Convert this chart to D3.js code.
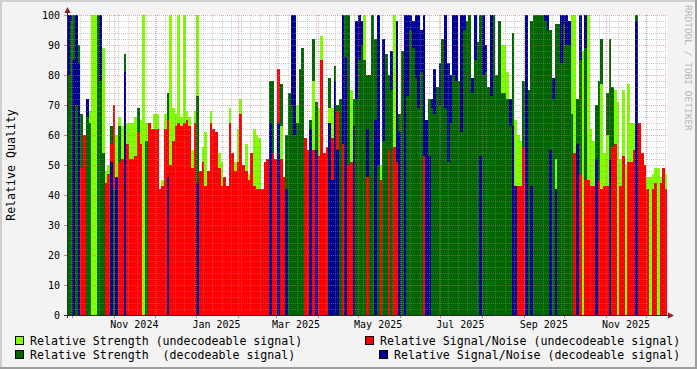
<!DOCTYPE html>
<html><head><meta charset="utf-8">
<script src="https://cdn.jsdelivr.net/npm/d3@7"></script>
<style>html,body{margin:0;padding:0;background:#f3f3f3;}svg{display:block;}</style>
</head><body><svg id="c" width="697" height="369"></svg>
<script>
// ---- data (2-day buckets starting at startDate) ----
const startDate = Date.UTC(2024, 8, 27);
const endDate = Date.UTC(2025, 11, 16, 10);
const bucketDays = 2;
const strengthUndecodeable = [
0,0,0,0,0,0,0,0,68,100, 100,0,0,89,48,50,0,0,60,66, 63,0,64,64,64,66,0,65,100,64,
0,0,67,67,0,45,67,0,100,69, 67,100,66,100,68,66,55,68,100,0, 56,61,0,68,0,0,54,51,0,0,
69,0,51,62,72,0,57,47,0,62, 60,59,0,0,0,0,0,0,0,63, 0,0,0,0,0,70,0,0,0,0,
0,78,0,69,93,0,0,69,69,0, 0,0,0,0,0,75,0,0,0,0, 100,0,0,0,0,0,50,0,0,0,
0,100,0,0,0,0,0,0,0,0, 0,0,0,0,0,0,0,0,0,0, 0,0,0,0,0,0,0,0,0,0,
0,0,0,0,0,0,0,0,0,0, 0,90,90,81,0,0,65,60,58,0, 0,0,0,0,0,0,0,0,0,0,
0,52,0,0,0,0,0,100,100,0, 0,88,0,100,62,58,0,0,77,54, 60,0,0,75,71,52,75,50,77,64,
64,0,0,0,0,46,46,47,49,49, 46,0,47];
const strengthDecodeable = [
80,98,100,70,90,67,0,66,64,0, 0,100,78,54,0,0,63,42,0,63, 0,87,0,0,0,0,69,0,0,58,
0,0,0,0,0,0,0,74,0,0, 0,0,0,0,0,0,0,0,73,0, 0,0,0,0,0,0,0,0,0,0,
0,0,0,0,0,0,0,0,0,0, 0,0,0,0,0,78,78,0,0,77, 0,60,74,70,60,64,82,89,0,0,
65,92,71,0,0,0,0,79,0,83, 70,72,0,100,100,0,72,72,85,90, 85,80,80,100,92,50,0,58,87,80,
75,0,0,67,88,0,73,95,89,79, 69,81,0,0,72,69,67,76,70,92, 69,51,64,80,78,78,61,95,98,100,
74,85,91,100,80,81,76,73,100,80, 98,74,74,72,63,94,0,0,0,78, 0,75,98,100,100,100,100,98,95,95,
72,97,97,84,97,90,90,67,0,72, 85,0,89,0,0,0,70,78,92,0, 74,92,76,0,0,0,0,0,0,0,
0,100,0,0,0,0,0,0,0,0, 0,0,0];
const snrUndecodeable = [
0,0,0,0,0,49,60,0,0,0, 0,0,0,0,44,47,57,70,0,51, 52,0,57,52,52,53,61,57,0,0,
64,62,62,62,42,43,62,65,50,58, 63,64,63,64,65,63,49,64,0,48, 51,43,48,64,62,61,49,43,46,43,
64,54,48,51,67,50,48,45,54,43, 42,42,42,51,52,0,54,52,82,52, 46,0,0,0,0,0,0,0,59,55,
0,55,0,53,85,54,56,0,59,0, 68,0,57,0,50,51,0,0,0,0, 0,46,0,0,0,0,45,0,0,55,
0,56,51,0,0,0,0,0,0,0, 0,0,53,0,0,0,0,0,0,0, 0,0,0,0,0,0,0,0,0,0,
0,0,0,0,0,0,0,0,0,0, 0,0,0,0,0,0,0,43,43,56, 0,0,0,0,0,0,0,0,0,0,
0,0,0,0,0,0,0,0,54,0, 47,0,45,45,43,43,0,45,42,43, 43,0,56,57,0,43,53,0,51,51,
55,0,64,54,50,42,0,42,44,0, 44,49,42];
const snrDecodeable = [
100,100,85,100,84,0,0,72,0,0, 0,0,100,0,0,0,51,0,46,0, 0,81,0,0,0,0,0,0,0,0,
0,0,0,0,0,0,0,46,0,0, 0,0,0,0,0,0,0,0,44,0, 0,0,0,0,0,0,0,0,0,0,
0,0,0,0,0,0,0,0,0,0, 0,0,0,0,0,64,0,0,64,0, 0,42,0,100,100,0,0,0,0,0,
62,0,55,0,0,0,0,64,45,78, 55,0,100,86,0,0,63,98,100,98, 0,62,0,0,65,100,0,92,0,0,
88,0,98,61,0,100,100,100,98,100, 100,95,100,65,53,72,82,0,84,0, 100,84,80,100,100,0,100,100,0,0,
79,100,0,53,100,90,0,100,0,0, 0,0,0,0,72,63,43,0,0,0, 100,0,43,0,0,0,0,100,100,55,
79,42,0,100,100,100,98,0,0,57, 100,0,100,0,0,0,52,0,0,0, 0,52,0,0,0,0,0,0,0,0,
0,98,0,0,0,0,0,0,0,0, 0,0,0];
const yTicks = [0,10,20,30,40,50,60,70,80,90,100];
const monthLabelDates = ["2024-11-01","2025-01-01","2025-03-01","2025-05-01","2025-07-01","2025-09-01","2025-11-01"];
const seriesNames = ["Relative Strength (undecodeable signal)","Relative Strength  (decodeable signal)",
  "Relative Signal/Noise (undecodeable signal)","Relative Signal/Noise (decodeable signal)"];
const seriesColors = ["#80ff00","#006600","#ff0000","#000099"];

// ---- drawing ----
const svg = d3.select("#c");
const W = 697, H = 369, L = 67, R = 667, T = 15, B = 315;
const x = d3.scaleUtc().domain([new Date(startDate), new Date(endDate)]).range([L, R]);
const y = d3.scaleLinear().domain([0, 100]).range([B, T]);
const mono = "'DejaVu Sans Mono', monospace";

svg.append("rect").attr("width", W).attr("height", H).attr("fill", "#f3f3f3");
// 3D frame
svg.append("rect").attr("x",0).attr("y",0).attr("width",W).attr("height",2).attr("fill","#cfcfcf");
svg.append("rect").attr("x",0).attr("y",0).attr("width",2).attr("height",H).attr("fill","#cfcfcf");
svg.append("rect").attr("x",0).attr("y",H-2).attr("width",W).attr("height",2).attr("fill","#9e9e9e");
svg.append("rect").attr("x",W-2).attr("y",0).attr("width",2).attr("height",H).attr("fill","#9e9e9e");
// canvas
svg.append("rect").attr("x", L).attr("y", T).attr("width", R - L).attr("height", B - T).attr("fill", "#ffffff");

const series = [strengthUndecodeable, strengthDecodeable, snrUndecodeable, snrDecodeable];
const buckets = d3.range(strengthUndecodeable.length).map(i => {
  const d0 = d3.utcDay.offset(new Date(startDate), i * bucketDays);
  const d1 = d3.utcDay.offset(new Date(startDate), (i + 1) * bucketDays);
  const vals = series.map((s, k) => ({k, v: s[i]})).filter(o => o.v > 0).sort((a, b) => b.v - a.v);
  return {d0, d1, vals};
});
const gBars = svg.append("g");
buckets.forEach(b => {
  const x0 = Math.round(x(b.d0)), x1 = Math.min(R, Math.round(x(b.d1)));
  b.vals.forEach(o => {
    gBars.append("rect").attr("x", x0).attr("width", Math.max(0, x1 - x0))
      .attr("y", Math.round(y(o.v))).attr("height", B - Math.round(y(o.v)))
      .attr("fill", seriesColors[o.k]).attr("shape-rendering", "crispEdges");
  });
});

// grid
const minorC = "rgba(143,143,143,0.45)", majorC = "rgba(222,104,104,0.55)";
const gGrid = svg.append("g").attr("shape-rendering", "crispEdges");
d3.range(2, 101, 2).filter(v => v % 10 !== 0).forEach(v => {
  gGrid.append("line").attr("x1", L).attr("x2", R).attr("y1", y(v) + 0.5).attr("y2", y(v) + 0.5)
    .attr("stroke", minorC).attr("stroke-dasharray", "1,1");
});
d3.utcMonday.range(new Date(startDate), new Date(endDate)).forEach(d => {
  const xx = Math.round(x(d)) + 0.5;
  gGrid.append("line").attr("x1", xx).attr("x2", xx).attr("y1", T).attr("y2", B)
    .attr("stroke", minorC).attr("stroke-dasharray", "1,1");
});
yTicks.filter(v => v > 0).forEach(v => {
  gGrid.append("line").attr("x1", L).attr("x2", R).attr("y1", y(v) + 0.5).attr("y2", y(v) + 0.5)
    .attr("stroke", majorC).attr("stroke-dasharray", "1,1");
});
const months = d3.utcMonth.range(new Date(startDate), new Date(endDate));
months.forEach(d => {
  const xx = Math.round(x(d)) + 0.5;
  gGrid.append("line").attr("x1", xx).attr("x2", xx).attr("y1", T).attr("y2", B)
    .attr("stroke", majorC).attr("stroke-dasharray", "1,1");
  gGrid.append("line").attr("x1", xx).attr("x2", xx).attr("y1", B).attr("y2", B + 3)
    .attr("stroke", "#d08080");
});
yTicks.forEach(v => {
  gGrid.append("line").attr("x1", L - 3).attr("x2", L).attr("y1", y(v) + 0.5).attr("y2", y(v) + 0.5)
    .attr("stroke", "#d08080");
});

// axes
svg.append("line").attr("x1", L - 3).attr("x2", R + 2).attr("y1", B + 0.5).attr("y2", B + 0.5)
  .attr("stroke", "#2c2c2c").attr("shape-rendering", "crispEdges");
svg.append("line").attr("x1", L + 0.5).attr("x2", L + 0.5).attr("y1", B + 3).attr("y2", T - 2)
  .attr("stroke", "#2c2c2c").attr("shape-rendering", "crispEdges");
svg.append("path").attr("d", `M${R+1},${B-2.5} L${R+7},${B+0.5} L${R+1},${B+3.5} Z`).attr("fill", "#8b1a1a");
svg.append("path").attr("d", `M${L-2.5},${T-2} L${L+0.5},${T-8} L${L+3.5},${T-2} Z`).attr("fill", "#8b1a1a");

// y labels
yTicks.forEach(v => {
  svg.append("text").attr("x", 60).attr("y", y(v)).attr("dy", "0.35em").attr("text-anchor", "end")
    .attr("font-family", mono).attr("font-size", "10px").attr("fill", "#000").text(v);
});
// x labels (centered half a month after the tick)
const fmt = d3.utcFormat("%b %Y");
monthLabelDates.forEach(s => {
  const d = new Date(s + "T00:00:00Z");
  const c = d3.utcDay.offset(d, 15);
  svg.append("text").attr("x", x(c)).attr("y", 324).attr("dy", "0.35em").attr("text-anchor", "middle")
    .attr("font-family", mono).attr("font-size", "10px").attr("fill", "#000").text(fmt(d));
});
// y title
svg.append("text").attr("transform", "translate(15,165) rotate(-90)").attr("text-anchor", "middle")
  .attr("font-family", mono).attr("font-size", "11.6px").attr("fill", "#000").text("Relative Quality");
// watermark
svg.append("text").attr("transform", "translate(685,5) rotate(90)").attr("text-anchor", "start")
  .attr("font-family", mono).attr("font-size", "9.5px").attr("fill", "#b4b4b4").text("RRDTOOL / TOBI OETIKER");

// legend
const legendPos = [[15, 341, 30], [15, 355, 30], [365, 341, 380], [379, 355, 394]];
seriesNames.forEach((name, k) => {
  const [bx, cy, tx] = legendPos[k];
  svg.append("rect").attr("x", bx + 0.5).attr("y", cy - 4.5).attr("width", 8).attr("height", 8)
    .attr("fill", seriesColors[k]).attr("stroke", "#000").attr("stroke-width", 1);
  svg.append("text").attr("x", tx).attr("y", cy).attr("dy", "0.35em")
    .attr("font-family", mono).attr("font-size", "11.6px").attr("fill", "#000")
    .attr("xml:space", "preserve").style("white-space", "pre").text(name);
});
</script></body></html>
